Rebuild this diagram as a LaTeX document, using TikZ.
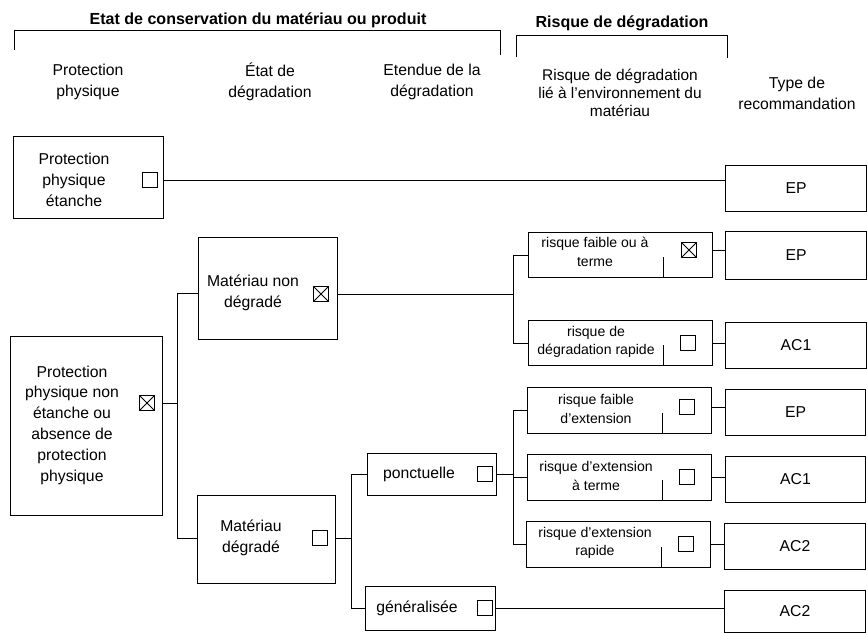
\documentclass[tikz,border=0pt]{standalone}
\usepackage{fontspec}
\setmainfont{Liberation Sans}
\usepackage{tikz}
\usetikzlibrary{positioning}

\begin{document}
\begin{tikzpicture}[
    x=0.025cm, y=-0.025cm,
    box/.style={draw, line width=0.7pt, inner sep=0pt},
    txt/.style={align=center, inner sep=0pt, font=\fontsize{11.2}{14.8}\selectfont},
    rtxt/.style={align=center, inner sep=0pt, font=\fontsize{10}{13.2}\selectfont},
    head/.style={align=center, inner sep=0pt, font=\bfseries\fontsize{11.4}{13}\selectfont},
    chk/.style={draw, line width=0.7pt, minimum size=10pt, inner sep=0pt},
    chkx/.style={chk, path picture={\draw[line width=0.6pt] (path picture bounding box.south west) -- (path picture bounding box.north east) (path picture bounding box.north west) -- (path picture bounding box.south east);}},
    rbox/.style={box, minimum width=4.58cm, minimum height=1.13cm},
    recbox/.style={box, minimum width=3.52cm, minimum height=1.13cm, font=\fontsize{11.2}{13}\selectfont},
    link/.style={line width=0.6pt},
]
    \useasboundingbox (0,0) rectangle (867,633);

    % headers
    \node[head] (hcons) at (258,20) {Etat de conservation du matériau ou produit};
    \node[head] (hrisk) at (622,23) {Risque de dégradation};
    \draw[link] (14,50) |- (500,30) -- (500,55);
    \draw[link] (516,57) |- (727,35) -- (727,58);

    \node[txt] (cprot) at (88,82) {Protection\\physique};
    \node[txt] (cetat) at (270,82) {État de\\dégradation};
    \node[txt] (cetend) at (432,82) {Etendue de la\\dégradation};
    \node[txt, font=\fontsize{11}{12.8}\selectfont] (cenv) at (620,93) {Risque de dégradation\\lié à l’environnement du\\matériau};
    \node[txt] (ctype) at (797,93) {Type de\\recommandation};

    % protection / etat / etendue
    \node[box, minimum width=3.73cm, minimum height=2.03cm] (b1) at (88.5,177.5) {};
    \node[txt] (b1t) at (74,180) {Protection\\physique\\étanche};
    \node[chk] (c1) at (150,180) {};

    \node[box, minimum width=3.78cm, minimum height=4.45cm] (b2) at (86.5,426) {};
    \node[txt] (b2t) at (72,425) {Protection\\physique non\\étanche ou\\absence de\\protection\\physique};
    \node[chkx] (c2) at (147,403) {};

    \node[box, minimum width=3.45cm, minimum height=2.55cm] (b3) at (268,288) {};
    \node[txt] (b3t) at (253,293) {Matériau non\\dégradé};
    \node[chkx] (c3) at (321,294) {};

    \node[box, minimum width=3.43cm, minimum height=2.2cm] (b4) at (266.5,539) {};
    \node[txt] (b4t) at (251,538) {Matériau\\dégradé};
    \node[chk] (c4) at (320,538) {};

    \node[box, minimum width=3.2cm, minimum height=1.05cm] (b5) at (432,474) {};
    \node[txt] (b5t) at (419,474) {ponctuelle};
    \node[chk] (c5) at (485,474) {};

    \node[box, minimum width=3.23cm, minimum height=1.1cm] (b6) at (430.5,608) {};
    \node[txt] (b6t) at (417,608) {généralisée};
    \node[chk] (c6) at (485,608) {};

    % risque
    \node[rbox] (r1) at (620.5,255) {};
    \node[rtxt] (r1t) at (595,252) {risque faible ou à\\terme};
    \node[chkx] (k1) at (689,250) {};
    \node[rbox] (r2) at (620.5,343) {};
    \node[rtxt] (r2t) at (596,342) {risque de\\dégradation rapide};
    \node[chk] (k2) at (688,343) {};
    \node[rbox] (r3) at (619.5,410.5) {};
    \node[rtxt] (r3t) at (596,409) {risque faible\\d’extension};
    \node[chk] (k3) at (687,407) {};
    \node[rbox] (r4) at (619.5,477.5) {};
    \node[rtxt] (r4t) at (596,476) {risque d’extension\\à terme};
    \node[chk] (k4) at (687,477) {};
    \node[rbox] (r5) at (618.5,544.5) {};
    \node[rtxt] (r5t) at (595,543) {risque d’extension\\rapide};
    \node[chk] (k5) at (686,544) {};
    \foreach \r in {r1,r2,r3,r4,r5}
        \draw[link] ([xshift=1.08cm]\r.south) -- ++(0,-21);

    % recommandation
    \node[recbox] (ep1) at (796,188.5) {EP};
    \node[recbox, minimum height=1.2cm] (ep2) at (796,255) {EP};
    \node[recbox] (ac1a) at (796,345.5) {AC1};
    \node[recbox] (ep3) at (795.5,412.5) {EP};
    \node[recbox] (ac1b) at (795.5,479.5) {AC1};
    \node[recbox] (ac2a) at (795,546.5) {AC2};
    \node[recbox, minimum height=1.05cm] (ac2b) at (795,611) {AC2};

    % liens
    \coordinate (j1) at (177,0);
    \coordinate (j2) at (513,0);
    \coordinate (j3) at (351,0);
    \coordinate (j4) at (513,0);

    \draw[link] (b1.east |- c1) -- (ep1.west |- c1);
    \draw[link] (b2.east |- c2) -- (j1 |- c2);
    \draw[link] (b3.west |- b3t) -| (j1 |- b4t) -- (b4.west |- b4t);
    \draw[link] (b3.east |- c3) -- (j2 |- c3);
    \draw[link] (r1.west) -| (j2 |- r2) -- (r2.west);
    \draw[link] (r1.east |- k1) -- (ep2.west |- k1);
    \draw[link] (r2.east |- k2) -- (ac1a.west |- k2);
    \draw[link] (b4.east |- c4) -- (j3 |- c4);
    \draw[link] (b5.west) -| (j3 |- b6) -- (b6.west);
    \draw[link] (b5.east |- c5) -- (j4 |- c5);
    \draw[link] (r3.west) -| (j4 |- r5) -- (r5.west);
    \draw[link] (r4.west) -- (j4 |- r4);
    \draw[link] (r3.east |- k3) -- (ep3.west |- k3);
    \draw[link] (r4.east |- k4) -- (ac1b.west |- k4);
    \draw[link] (r5.east |- k5) -- (ac2a.west |- k5);
    \draw[link] (b6.east |- c6) -- (ac2b.west |- c6);
\end{tikzpicture}
\end{document}
